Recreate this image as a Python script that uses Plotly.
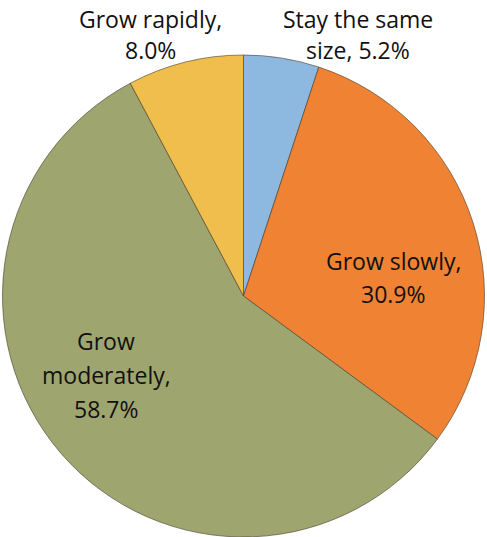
import plotly.graph_objects as go

categories = ["Stay the same size", "Grow slowly", "Grow moderately", "Grow rapidly"]
values = [5.2, 30.9, 58.7, 8.0]
label_lines = [["Stay the same", "size, {v}%"], ["Grow slowly,", "{v}%"],
               ["Grow", "moderately,", "{v}%"], ["Grow rapidly,", "{v}%"]]
colors = ["#8DB8E0", "#F08233", "#9EA56F", "#F0BE4C"]

W, H, TOP = 487, 537, 55
# label centre (pixels from top-left) of first line, and line spacing
label_px = [(358, 19), (393, 261), (106, 341), (150, 19)]
line_gap = [31, 33, 34, 31]

fig = go.Figure(go.Pie(
    labels=categories, values=values, sort=False, direction="clockwise",
    rotation=0, textinfo="none", hoverinfo="label+value",
    marker=dict(colors=colors, line=dict(color="rgba(70,60,40,0.6)", width=1)),
    showlegend=False,
))

for lines, v, (px, py), gap in zip(label_lines, values, label_px, line_gap):
    for i, ln in enumerate(lines):
        y_pix = py + i * gap
        fig.add_annotation(x=px / W, y=(H - y_pix) / (H - TOP), xref="paper", yref="paper",
                           text=ln.format(v=f"{v:.1f}"), showarrow=False,
                           xanchor="center", yanchor="middle",
                           font=dict(family="Open Sans", size=23, color="#111111"))

fig.update_layout(width=W, height=H, margin=dict(l=0, r=0, t=TOP, b=0),
                  paper_bgcolor="white", plot_bgcolor="white")
fig.write_html("out.html", config={"displayModeBar": False},
               post_script="document.body.style.margin='0';")
